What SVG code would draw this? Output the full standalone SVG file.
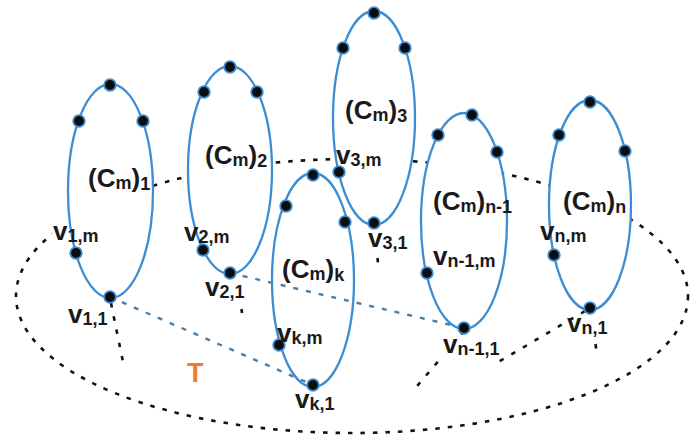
<svg xmlns="http://www.w3.org/2000/svg" width="690" height="439" viewBox="0 0 690 439">
<style>
.cyc{fill:none;stroke:#3c8dd3;stroke-width:2.3}
.dot{fill:#0d0d0d;stroke:#3c8dd3;stroke-width:1.8}
.t{font-family:"Liberation Sans",Arial,sans-serif;font-weight:bold;fill:#1a1a1a;font-size:26px}
.s{font-size:18px}
.big{fill:none;stroke:#111;stroke-width:2.6;stroke-dasharray:4.5 8}
.blk{fill:none;stroke:#111;stroke-width:2.6;stroke-dasharray:4.5 9}
.blu{fill:none;stroke:#4a7fa8;stroke-width:2.4;stroke-dasharray:5 8}
.T{font-family:"Liberation Sans",Arial,sans-serif;font-weight:bold;fill:#ed7d31;font-size:27px}
</style>
<defs>
<mask id="mBig" maskUnits="userSpaceOnUse" x="0" y="0" width="690" height="439">
<rect x="0" y="0" width="690" height="439" fill="#fff"/>
<ellipse cx="110.5" cy="191" rx="42.5" ry="107" fill="#000"/>
<ellipse cx="230" cy="170" rx="42" ry="104" fill="#000"/>
<ellipse cx="374" cy="118" rx="41" ry="107" fill="#000"/>
<ellipse cx="313" cy="280" rx="41" ry="107" fill="#000"/>
<ellipse cx="464" cy="221" rx="43" ry="108" fill="#000"/>
<ellipse cx="590" cy="205" rx="41" ry="105" fill="#000"/>
<rect x="52" y="222" width="50" height="24" fill="#000"/>
</mask>
<mask id="mLbl" maskUnits="userSpaceOnUse" x="0" y="0" width="690" height="439">
<rect x="0" y="0" width="690" height="439" fill="#fff"/>
<rect x="441" y="337" width="58" height="20" fill="#000"/>
</mask>
</defs>
<rect width="690" height="439" fill="#fff"/>
<g id="connectors">
<ellipse class="big" cx="352" cy="296" rx="336" ry="137" mask="url(#mBig)"/>
<line class="blu" x1="110" y1="297" x2="313" y2="385"/>
<line class="blu" x1="230" y1="273" x2="464" y2="328"/>
<g mask="url(#mLbl)">
<line class="blk" x1="111" y1="303" x2="123" y2="362"/>
<line class="blk" x1="464" y1="331" x2="412" y2="392"/>
<line class="blk" x1="585" y1="311" x2="495" y2="364"/>
<line class="blk" x1="241.5" y1="309" x2="242" y2="313"/>
<line class="blk" x1="377.5" y1="258" x2="378" y2="263"/>
<line class="blk" x1="595.5" y1="344" x2="596.5" y2="351"/>
</g>
</g>
<g id="cycle1">
<ellipse class="cyc" cx="110.5" cy="191" rx="42.5" ry="107"/>
<circle class="dot" cx="110" cy="85" r="5.8"/>
<circle class="dot" cx="79" cy="121" r="5.8"/>
<circle class="dot" cx="143" cy="121" r="5.8"/>
<circle class="dot" cx="76" cy="253" r="5.8"/>
<circle class="dot" cx="110" cy="297" r="5.8"/>
<text class="t" x="88" y="187">(C<tspan class="s" dy="2">m</tspan><tspan dy="-2">)</tspan><tspan class="s" dy="3">1</tspan></text>
<text class="t" x="53" y="240">v<tspan class="s" dy="2">1,m</tspan></text>
<text class="t" x="68" y="323">v<tspan class="s" dy="2">1,1</tspan></text>
</g>
<g id="cycle2">
<ellipse class="cyc" cx="230" cy="170" rx="42" ry="104"/>
<circle class="dot" cx="230" cy="67" r="5.8"/>
<circle class="dot" cx="204" cy="92" r="5.8"/>
<circle class="dot" cx="257" cy="92" r="5.8"/>
<circle class="dot" cx="203" cy="250" r="5.8"/>
<circle class="dot" cx="230" cy="273" r="5.8"/>
<text class="t" x="205" y="164">(C<tspan class="s" dy="2">m</tspan><tspan dy="-2">)</tspan><tspan class="s" dy="3">2</tspan></text>
<text class="t" x="184" y="241">v<tspan class="s" dy="2">2,m</tspan></text>
<text class="t" x="205" y="296">v<tspan class="s" dy="2">2,1</tspan></text>
</g>
<g id="cycle3">
<ellipse class="cyc" cx="374" cy="118" rx="41" ry="107"/>
<circle class="dot" cx="374" cy="13" r="5.8"/>
<circle class="dot" cx="343" cy="48" r="5.8"/>
<circle class="dot" cx="405" cy="48" r="5.8"/>
<circle class="dot" cx="339" cy="172" r="5.8"/>
<circle class="dot" cx="374" cy="223" r="5.8"/>
<text class="t" x="345" y="119">(C<tspan class="s" dy="2">m</tspan><tspan dy="-2">)</tspan><tspan class="s" dy="3">3</tspan></text>
<text class="t" x="336" y="164">v<tspan class="s" dy="2">3,m</tspan></text>
<text class="t" x="368" y="247">v<tspan class="s" dy="2">3,1</tspan></text>
</g>
<g id="cyclek">
<ellipse class="cyc" cx="313" cy="280" rx="41" ry="107"/>
<circle class="dot" cx="313" cy="175" r="5.8"/>
<circle class="dot" cx="286" cy="206" r="5.8"/>
<circle class="dot" cx="345" cy="222" r="5.8"/>
<circle class="dot" cx="279" cy="345" r="5.8"/>
<circle class="dot" cx="313" cy="385" r="5.8"/>
<text class="t" x="282" y="278">(C<tspan class="s" dy="2">m</tspan><tspan dy="-2">)</tspan><tspan class="s" dy="3">k</tspan></text>
<text class="t" x="277" y="342">v<tspan class="s" dy="2">k,m</tspan></text>
<text class="t" x="295" y="408">v<tspan class="s" dy="2">k,1</tspan></text>
</g>
<g id="cyclen1">
<ellipse class="cyc" cx="464" cy="221" rx="43" ry="108"/>
<circle class="dot" cx="472" cy="115" r="5.8"/>
<circle class="dot" cx="438" cy="135" r="5.8"/>
<circle class="dot" cx="497" cy="152" r="5.8"/>
<circle class="dot" cx="427" cy="273" r="5.8"/>
<circle class="dot" cx="464" cy="328" r="5.8"/>
<text class="t" x="433" y="210">(C<tspan class="s" dy="2">m</tspan><tspan dy="-2">)</tspan><tspan class="s" dy="3">n-1</tspan></text>
<text class="t" x="433" y="265">v<tspan class="s" dy="2">n-1,m</tspan></text>
<text class="t" x="443" y="353">v<tspan class="s" dy="2">n-1,1</tspan></text>
</g>
<g id="cyclen">
<ellipse class="cyc" cx="590" cy="205" rx="41" ry="105"/>
<circle class="dot" cx="590" cy="102" r="5.8"/>
<circle class="dot" cx="559" cy="135" r="5.8"/>
<circle class="dot" cx="625" cy="151" r="5.8"/>
<circle class="dot" cx="554" cy="255" r="5.8"/>
<circle class="dot" cx="590" cy="308" r="5.8"/>
<text class="t" x="563" y="210">(C<tspan class="s" dy="2">m</tspan><tspan dy="-2">)</tspan><tspan class="s" dy="3">n</tspan></text>
<text class="t" x="540" y="240">v<tspan class="s" dy="2">n,m</tspan></text>
<text class="t" x="567" y="332">v<tspan class="s" dy="2">n,1</tspan></text>
</g>
<g id="treeLabel">
<text class="T" x="187" y="382">T</text>
</g>
</svg>
